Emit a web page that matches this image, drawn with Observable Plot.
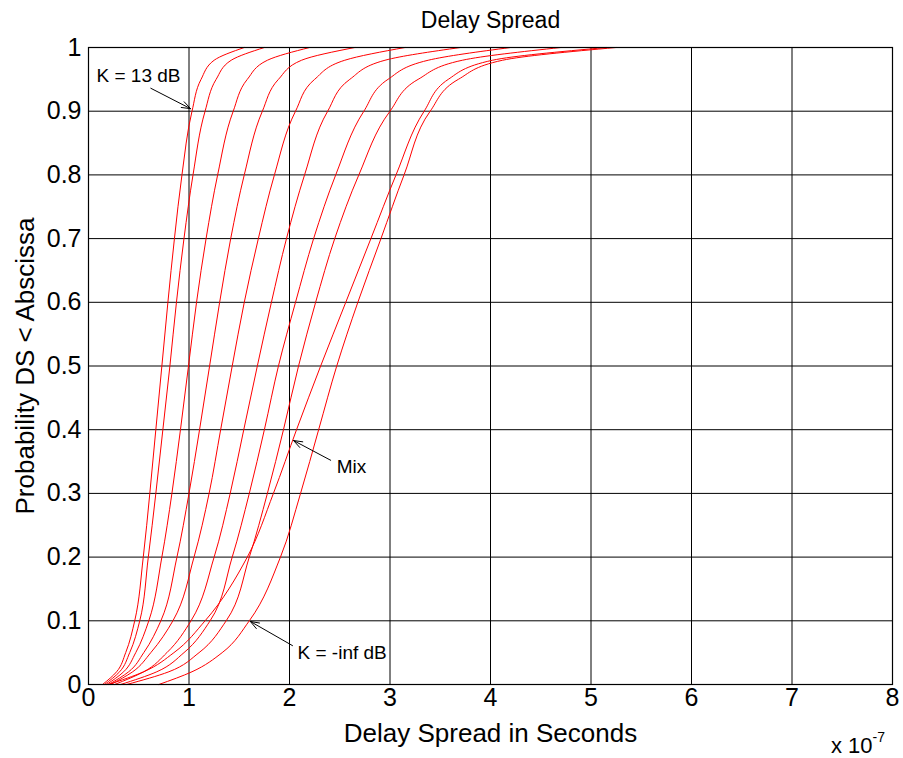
<!DOCTYPE html>
<html>
<head>
<meta charset="utf-8">
<script src="https://cdn.jsdelivr.net/npm/d3@7"></script>
<script src="https://cdn.jsdelivr.net/npm/@observablehq/plot@0.6"></script>
<style>
  html, body { margin: 0; padding: 0; background: #fff; }
  svg { display: block; }
</style>
</head>
<body>
<div id="chart"></div>
<script>
// Probability levels (y) at which each curve's delay spread (x, in units of 1e-7 s) was read
const levels = [0, 0.02, 0.05, 0.1, 0.2, 0.3, 0.4, 0.5, 0.6, 0.7, 0.8, 0.9, 0.95, 0.98, 1];

// Series names
const seriesNames = ["K = 13 dB", "c2", "c3", "c4", "c5", "c6", "c7", "c8", "Mix", "K = -inf dB"];

// Delay spread (x 1e-7 s) at each level, per series
const s1   = [0.14, 0.28, 0.37, 0.46, 0.545, 0.61, 0.67, 0.73, 0.79, 0.855, 0.93, 1.03, 1.12, 1.25, 1.55];
const s2   = [0.16, 0.31, 0.41, 0.51, 0.595, 0.67, 0.74, 0.81, 0.875, 0.95, 1.04, 1.16, 1.27, 1.42, 1.75];
const s3   = [0.18, 0.35, 0.47, 0.60, 0.73, 0.83, 0.915, 0.995, 1.075, 1.17, 1.285, 1.44, 1.58, 1.78, 2.20];
const s4   = [0.20, 0.40, 0.55, 0.72, 0.88, 1.00, 1.105, 1.205, 1.305, 1.415, 1.55, 1.73, 1.89, 2.12, 2.65];
const s5   = [0.22, 0.44, 0.62, 0.84, 1.05, 1.20, 1.315, 1.43, 1.55, 1.69, 1.85, 2.06, 2.25, 2.55, 3.15];
const s6   = [0.26, 0.55, 0.78, 1.02, 1.25, 1.41, 1.545, 1.68, 1.82, 1.97, 2.15, 2.38, 2.60, 2.95, 3.70];
const s7   = [0.32, 0.68, 0.95, 1.21, 1.43, 1.60, 1.75, 1.89, 2.06, 2.24, 2.46, 2.74, 2.98, 3.38, 4.20];
const s8   = [0.38, 0.80, 1.10, 1.37, 1.60, 1.78, 1.94, 2.09, 2.26, 2.45, 2.69, 3.00, 3.28, 3.72, 4.70];
const sMix = [0.20, 0.55, 0.85, 1.16, 1.58, 1.84, 2.07, 2.31, 2.56, 2.81, 3.06, 3.34, 3.58, 4.02, 5.15];
const sInf = [0.70, 1.03, 1.33, 1.60, 1.91, 2.11, 2.29, 2.47, 2.68, 2.91, 3.14, 3.40, 3.68, 4.12, 5.25];

const seriesValues = [s1, s2, s3, s4, s5, s6, s7, s8, sMix, sInf];

// Axis ticks
const xTicks = [0, 1, 2, 3, 4, 5, 6, 7, 8];
const yTicks = [0, 0.1, 0.2, 0.3, 0.4, 0.5, 0.6, 0.7, 0.8, 0.9, 1];

// Annotations (data coordinates)
const annLabels = ["K = 13 dB", "Mix", "K = -inf dB"];
const annTextX  = [0.08, 2.47, 2.08];
const annTextY  = [0.955, 0.341, 0.050];
const annFromX  = [0.62, 2.41, 2.03];
const annFromY  = [0.936, 0.352, 0.061];
const annToX    = [1.015, 2.04, 1.61];
const annToY    = [0.904, 0.383, 0.099];

// Build tidy table
const data = [];
seriesNames.forEach((name, i) => {
  levels.forEach((p, j) => data.push({series: name, x: seriesValues[i][j], y: p}));
});
const ann = annLabels.map((t, i) => ({
  text: t, tx: annTextX[i], ty: annTextY[i],
  x1: annFromX[i], y1: annFromY[i], x2: annToX[i], y2: annToY[i]
}));

const font = "'Liberation Sans', Arial, Helvetica, sans-serif";

const chart = Plot.plot({
  width: 903,
  height: 758,
  marginLeft: 88,
  marginRight: 11,
  marginTop: 47,
  marginBottom: 74,
  style: {fontFamily: font, background: "#fff", color: "#000"},
  x: {domain: [0, 8]},
  y: {domain: [0, 1]},
  marks: [
    Plot.gridX(xTicks, {stroke: "#000", strokeOpacity: 1, strokeWidth: 1}),
    Plot.gridY(yTicks, {stroke: "#000", strokeOpacity: 1, strokeWidth: 1}),
    Plot.line(data, {x: "x", y: "y", z: "series", stroke: "#ff0000", strokeWidth: 1, curve: "monotone-y"}),
    Plot.frame({stroke: "#000", strokeWidth: 1.2}),
    Plot.axisX(xTicks, {tickSize: 0, tickPadding: 4, fontSize: 25, label: null, tickFormat: d => String(d)}),
    Plot.axisY(yTicks, {tickSize: 0, tickPadding: 7, fontSize: 25, label: null, tickFormat: d => String(+d.toFixed(1))}),
    Plot.arrow(ann, {x1: "x1", y1: "y1", x2: "x2", y2: "y2", stroke: "#000", strokeWidth: 1, headLength: 14, headAngle: 40}),
    Plot.text(ann, {x: "tx", y: "ty", text: "text", textAnchor: "start", lineAnchor: "middle", fontSize: 19, fill: "#000"}),
    Plot.text(["Delay Spread"], {frameAnchor: "top", dy: -27, lineAnchor: "middle", fontSize: 23, fill: "#000"}),
    Plot.text(["Delay Spread in Seconds"], {frameAnchor: "bottom", dy: 49, lineAnchor: "middle", fontSize: 26, fill: "#000"}),
    Plot.text(["Probability DS < Abscissa"], {frameAnchor: "left", dx: -63, rotate: -90, textAnchor: "middle", lineAnchor: "middle", fontSize: 26, fill: "#000"}),
    Plot.text(["x 10"], {frameAnchor: "bottom-right", dx: -20, dy: 61, textAnchor: "end", lineAnchor: "middle", fontSize: 22, fill: "#000"}),
    Plot.text(["-7"], {frameAnchor: "bottom-right", dx: -20, dy: 53, textAnchor: "start", lineAnchor: "middle", fontSize: 14, fill: "#000"})
  ]
});
document.getElementById("chart").appendChild(chart);
</script>
</body>
</html>
